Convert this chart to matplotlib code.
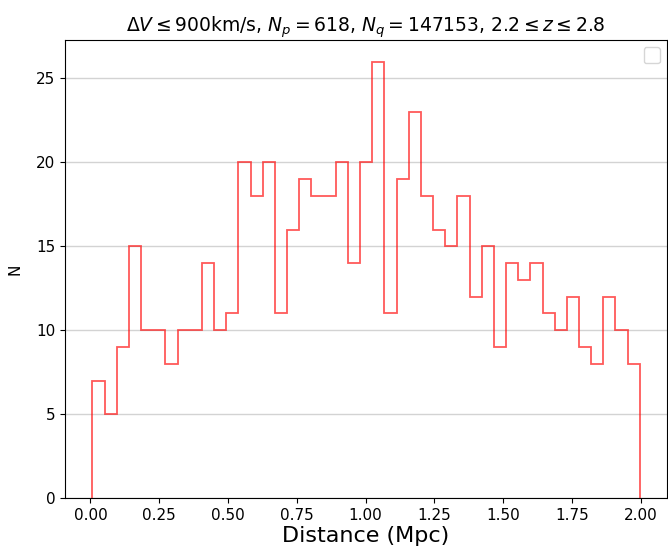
import numpy as np
import matplotlib
matplotlib.use('Agg')
import matplotlib.pyplot as plt

# histogram counts, 45 bins between dmin and dmax (Mpc)
dmin = 0.007
dmax = 1.997
counts = [7, 5, 9, 15, 10, 10, 8, 10, 10, 14,
          10, 11, 20, 18, 20, 11, 16, 19, 18, 18,
          20, 14, 20, 26, 11, 19, 23, 18, 16, 15,
          18, 12, 15, 9, 14, 13, 14, 11, 10, 12,
          9, 8, 12, 10, 8]
edges = np.linspace(dmin, dmax, len(counts) + 1)
centers = 0.5 * (edges[:-1] + edges[1:])

fig = plt.figure(figsize=(6.68, 5.54), dpi=100)
ax = fig.add_axes([0.0973, 0.101, 0.9015, 0.827])

ax.hist(centers, bins=edges, weights=counts, histtype='step',
        color='red', alpha=0.65, linewidth=1.3)
ax.grid(axis='y', color='#d3d3d3', linewidth=1)
ax.set_axisbelow(True)
ax.tick_params(labelsize=11)

ax.set_title(r'$\Delta V \leq 900$km/s, $N_p = 618$, $N_q = 147153$, $2.2 \leq z \leq 2.8$',
             fontsize=13.5, pad=5)
ax.set_xlabel('Distance (Mpc)', fontsize=16, labelpad=2)
ax.set_ylabel('N', fontsize=11, labelpad=10)
ax.legend(loc='upper right', borderpad=0.6)

plt.savefig('out.png', dpi=100)
